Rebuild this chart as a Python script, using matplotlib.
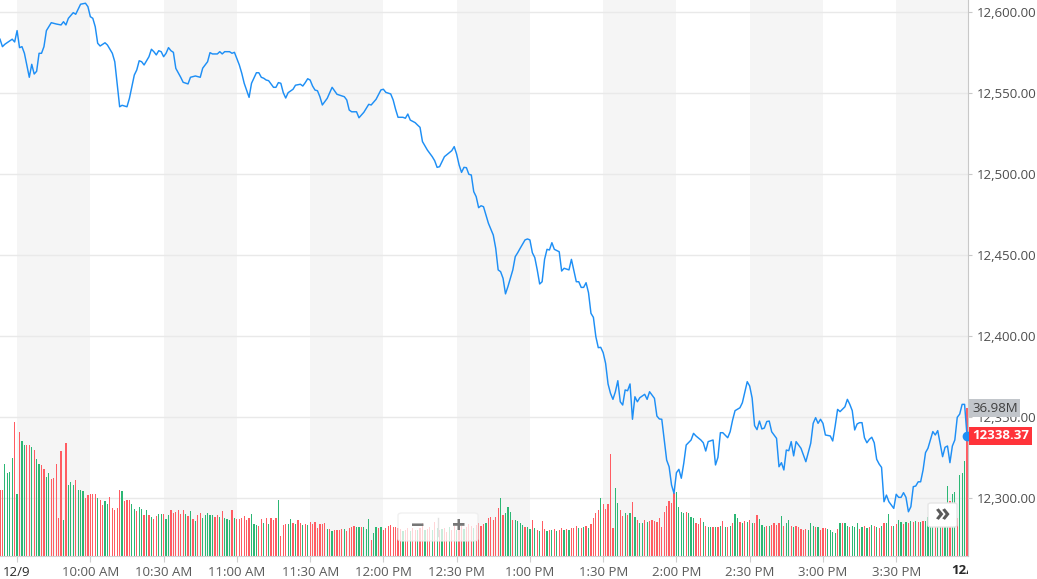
import matplotlib.pyplot as plt
from matplotlib.patches import FancyBboxPatch
from matplotlib.ticker import FuncFormatter
from matplotlib.transforms import Bbox, TransformedBbox, blended_transform_factory

plt.rcParams['font.family'] = ['Open Sans', 'DejaVu Sans']

# price line: minutes after 9:30 AM and index level
price_min = [
    -7, -6, -5, -2, -1, 0, 1, 2, 3, 5,
    6, 7, 8, 9, 10, 11, 12, 14, 16, 18,
    19, 20, 21, 23, 24, 26, 28, 29, 30, 31,
    32, 33, 34, 36, 37, 39, 40, 42, 43, 45,
    46, 48, 49, 50, 51, 52, 54, 55, 56, 57,
    58, 59, 60, 61, 62, 63, 64, 65, 66, 67,
    68, 70, 71, 73, 75, 76, 78, 79, 80, 82,
    83, 84, 85, 87, 88, 89, 91, 92, 93, 95,
    96, 98, 99, 100, 101, 102, 103, 105, 106, 107,
    108, 109, 110, 111, 113, 114, 116, 117, 118, 119,
    120, 121, 122, 123, 124, 125, 127, 129, 131, 134,
    135, 136, 137, 139, 140, 142, 144, 145, 147, 149,
    150, 151, 153, 154, 155, 156, 158, 159, 160, 161,
    163, 164, 165, 166, 168, 170, 171, 172, 173, 175,
    177, 178, 179, 180, 181, 182, 183, 184, 185, 186,
    187, 188, 189, 190, 191, 192, 193, 195, 196, 197,
    198, 199, 200, 201, 203, 204, 205, 206, 208, 209,
    210, 211, 212, 213, 214, 215, 216, 217, 218, 219,
    220, 222, 223, 224, 226, 227, 229, 230, 231, 232,
    233, 234, 235, 236, 237, 238, 239, 240, 241, 242,
    243, 244, 245, 246, 247, 248, 249, 250, 251, 252,
    253, 254, 255, 257, 258, 259, 261, 262, 263, 264,
    265, 266, 267, 268, 269, 270, 271, 272, 273, 274,
    276, 277, 278, 280, 281, 282, 283, 285, 286, 287,
    288, 289, 291, 292, 293, 294, 296, 297, 299, 300,
    301, 302, 303, 304, 305, 306, 307, 308, 309, 311,
    312, 313, 314, 315, 316, 317, 318, 319, 321, 322,
    323, 325, 326, 327, 328, 329, 330, 331, 333, 334,
    335, 336, 337, 339, 340, 341, 342, 343, 344, 345,
    346, 347, 348, 349, 350, 351, 352, 353, 354, 355,
    356, 357, 359, 360, 361, 362, 363, 364, 365, 366,
    367, 368, 369, 370, 371, 372, 373, 375, 376, 377,
    379, 380, 381, 382, 383, 384, 385, 386, 387, 388,
    389,
]
price_val = [
    12583.2, 12578.6, 12580.1, 12583.2, 12581.5, 12588.5, 12578.0, 12578.6, 12574.5, 12559.7,
    12567.7, 12561.7, 12563.4, 12574.5, 12574.5, 12578.6, 12588.5, 12593.4, 12592.6, 12592.0,
    12594.0, 12592.0, 12596.1, 12599.6, 12598.6, 12604.8, 12605.4, 12603.3, 12597.1, 12596.1,
    12590.9, 12580.7, 12579.0, 12581.0, 12579.6, 12574.5, 12569.3, 12541.5, 12542.4, 12541.5,
    12546.7, 12561.1, 12564.2, 12569.9, 12569.3, 12567.3, 12572.4, 12577.0, 12575.5, 12573.5,
    12576.1, 12575.5, 12572.4, 12574.5, 12578.0, 12576.1, 12575.1, 12565.2, 12562.5, 12559.7,
    12556.6, 12555.6, 12559.7, 12560.5, 12559.7, 12565.3, 12569.3, 12574.9, 12574.1, 12574.1,
    12575.5, 12574.1, 12575.5, 12575.5, 12574.5, 12575.1, 12567.3, 12562.2, 12556.0, 12547.3,
    12556.0, 12562.5, 12562.5, 12559.7, 12559.1, 12558.0, 12557.6, 12553.5, 12553.5, 12556.4,
    12556.0, 12550.2, 12546.9, 12550.2, 12552.3, 12554.8, 12555.4, 12554.3, 12556.4, 12558.8,
    12558.0, 12554.3, 12551.8, 12551.4, 12547.7, 12542.6, 12546.7, 12553.5, 12549.2, 12547.7,
    12545.7, 12539.5, 12538.4, 12538.4, 12534.7, 12538.1, 12543.0, 12542.6, 12546.1, 12551.9,
    12552.3, 12550.4, 12549.4, 12545.7, 12539.9, 12535.0, 12535.0, 12534.4, 12537.0, 12533.3,
    12531.7, 12530.2, 12528.8, 12520.0, 12514.8, 12510.7, 12508.2, 12504.1, 12504.5, 12510.7,
    12513.2, 12514.4, 12516.9, 12512.2, 12505.6, 12501.0, 12504.1, 12503.9, 12499.8, 12499.4,
    12489.1, 12486.0, 12479.2, 12480.4, 12479.8, 12474.7, 12469.6, 12462.3, 12454.1, 12440.8,
    12439.7, 12435.6, 12426.0, 12430.5, 12440.8, 12449.0, 12451.4, 12454.1, 12459.3, 12459.9,
    12459.3, 12451.4, 12448.4, 12440.8, 12432.1, 12433.5, 12447.3, 12453.5, 12453.1, 12457.6,
    12453.5, 12452.0, 12440.1, 12441.8, 12440.8, 12447.3, 12433.5, 12433.5, 12430.0, 12430.0,
    12432.9, 12426.7, 12414.0, 12411.5, 12399.6, 12392.8, 12393.0, 12389.7, 12383.1, 12370.4,
    12364.6, 12360.9, 12365.6, 12372.4, 12359.4, 12357.4, 12366.7, 12366.2, 12370.4, 12348.6,
    12362.5, 12359.4, 12361.9, 12364.0, 12360.9, 12365.6, 12361.5, 12350.6, 12348.8, 12348.6,
    12335.8, 12323.4, 12319.3, 12308.0, 12302.9, 12315.6, 12317.7, 12312.2, 12321.4, 12332.7,
    12335.8, 12339.9, 12338.3, 12335.8, 12334.1, 12329.0, 12334.8, 12335.8, 12320.4, 12325.1,
    12340.3, 12340.3, 12337.2, 12340.9, 12348.1, 12353.9, 12355.7, 12358.8, 12371.8, 12369.1,
    12361.7, 12344.7, 12342.2, 12347.5, 12342.6, 12343.2, 12347.2, 12347.5, 12340.9, 12336.8,
    12319.3, 12321.8, 12317.3, 12329.6, 12329.2, 12334.8, 12326.0, 12334.8, 12330.7, 12326.5,
    12322.4, 12333.8, 12346.1, 12349.6, 12346.1, 12348.6, 12346.1, 12338.9, 12338.3, 12335.2,
    12344.4, 12354.7, 12353.3, 12356.3, 12360.9, 12357.8, 12353.9, 12342.0, 12345.7, 12346.5,
    12346.5, 12337.2, 12334.1, 12336.2, 12337.5, 12334.1, 12323.9, 12321.0, 12318.9, 12297.7,
    12301.8, 12297.7, 12293.6, 12302.3, 12300.4, 12300.4, 12303.3, 12300.4, 12291.5, 12294.6,
    12307.0, 12307.4, 12310.0, 12310.0, 12317.3, 12328.0, 12330.7, 12341.0, 12338.9, 12341.6,
    12325.5, 12331.3, 12332.1, 12321.8, 12332.1, 12335.8, 12349.8, 12351.8, 12357.8, 12357.8,
    12338.37,
]

# one volume bar per minute, first bar at minute -7 (millions)
vol_m = [
    16.4, 16.6, 23.1, 20.8, 21.0, 24.6, 33.5, 15.6, 31.0, 28.8,
    27.8, 27.7, 27.8, 27.3, 26.6, 24.3, 23.1, 22.7, 21.7, 19.8,
    20.8, 19.2, 19.6, 23.1, 9.6, 26.3, 9.1, 28.3, 17.7, 18.5,
    17.7, 19.1, 16.6, 16.6, 16.3, 14.6, 15.2, 15.6, 15.6, 15.4,
    14.6, 14.1, 12.8, 13.7, 13.1, 14.8, 12.1, 11.6, 12.1, 16.4,
    16.3, 13.7, 13.9, 13.9, 12.9, 11.8, 11.3, 12.3, 11.8, 10.3,
    11.4, 10.2, 9.8, 9.3, 9.9, 10.6, 10.4, 10.4, 9.2, 10.3,
    11.4, 10.8, 11.0, 11.4, 10.4, 11.6, 10.6, 9.9, 11.3, 9.3,
    8.8, 10.2, 10.8, 9.6, 10.2, 10.8, 10.3, 10.3, 9.8, 10.3,
    9.8, 11.3, 9.6, 9.3, 9.1, 11.6, 9.6, 9.2, 9.3, 9.6,
    9.9, 8.9, 9.6, 10.6, 8.1, 7.8, 7.4, 9.3, 8.3, 9.6,
    8.1, 9.6, 8.9, 9.6, 13.9, 4.9, 7.7, 7.9, 8.1, 9.3,
    8.3, 8.1, 8.9, 8.3, 7.7, 8.1, 7.7, 8.5, 8.1, 8.5,
    7.1, 7.9, 8.1, 8.3, 6.8, 6.8, 6.2, 6.6, 6.6, 6.6,
    6.8, 6.8, 6.3, 7.1,
    7.2, 7.5, 7.2, 7.2, 7.2, 7.2, 6.7, 9.3, 4.0, 5.8,
    7.2, 6.9, 7.2, 6.5, 6.9, 7.5, 7.8, 7.2, 7.2,
    7.0, 6.8, 6.2, 6.5, 6.9, 6.3, 7.1, 6.6, 6.4, 7.0,
    8.2, 6.5, 6.8, 7.3, 6.6, 8.6, 7.0, 6.4, 6.8, 6.9,
    5.9, 7.2, 6.5, 7.4, 6.6, 7.1, 7.4, 6.7, 7.2, 7.9,
    7.4, 7.0, 7.7, 8.2,
    7.5, 8.0, 8.3, 9.4, 9.8, 9.0, 9.8, 11.9, 14.4, 10.3,
    10.7, 12.3, 11.1, 9.0, 9.0, 8.8, 8.3, 7.8, 7.3, 7.2,
    6.8, 9.0,
    7.0, 6.5, 6.2, 8.8, 6.8, 6.3, 6.5, 6.6, 6.8, 6.2,
    6.5, 6.9, 6.6, 6.8, 6.4, 6.9, 7.0, 7.5, 7.0, 6.9,
    7.3, 7.6, 7.0, 8.0, 9.6, 10.7, 11.5, 14.4, 12.9, 11.7,
    13.0, 25.4, 6.9, 16.9, 13.3, 11.5, 10.0, 10.8, 10.2, 10.8,
    13.4, 9.7, 9.0, 8.3, 8.3, 9.0, 8.6, 8.8, 9.0, 8.8,
    8.6, 9.4, 7.3, 11.0, 12.5, 13.8, 13.3, 15.8, 16.1, 12.2,
    11.1, 10.7, 11.1, 10.8, 9.7, 9.4, 8.3, 8.0,
    9.6, 8.6, 7.5, 7.3, 7.3, 7.3, 7.3, 7.3, 7.5, 8.8,
    7.2, 7.3, 7.5, 8.2, 10.4, 9.4, 8.6, 8.3, 8.8, 8.6,
    9.0, 8.2, 8.3, 10.3, 9.2, 7.8, 7.2, 7.5, 7.5, 7.8,
    8.2, 7.8, 8.3, 10.0, 7.5, 8.2, 9.0, 7.5, 7.3, 7.5,
    7.2, 6.7, 6.5, 6.8, 6.5, 8.2, 7.5, 7.3, 7.2, 6.5,
    7.0, 6.9, 6.8, 6.5, 6.1, 5.8, 6.7, 8.3, 8.2, 8.3,
    7.5, 7.2, 7.5, 7.2, 8.2, 6.7, 7.3, 7.5, 7.1, 7.3,
    7.8, 7.5, 7.2, 6.9, 7.5, 8.2, 8.3, 10.5, 7.5, 7.5,
    8.0, 9.0, 8.6, 8.0, 8.6, 8.3, 8.8, 8.6, 8.8, 8.6,
    8.6, 8.8, 8.8, 9.8, 8.6, 9.0, 8.8, 9.0, 9.4, 9.4,
    10.5, 17.4, 13.8, 15.5, 15.9, 9.5, 20.2, 20.8, 23.8, 36.98,
]
# u = minute closed up, d = minute closed down
vol_dir = (
    "d d u u u u d u d u  u d d u d u u d d u  u d d d d d u d u u  "
    "u d u u u d d d d d  u d d u u d d d d d  u d d d u u d u u d  "
    "u d u d d u u d u u  d d d d d d u d u d  u d d u u u u u d d  "
    "u d u u u d u d d d  d d d u u u d d u d  u d d d u d d d u u  "
    "d u d d u d u d d d  d d d d u d u d d d  d u d d  "
    "d d u u d u u u d u  u d u d d d d d d  "
    "d d u d d u d d u d  d u d d u d u d u d  d u d d u d d u d d  d u d d  "
    "d d u d d d d d u d  u u u d u u u u d u  u d  "
    "u d u d d u d u d u  d d u d u d d d u d  u d u d d d d u d d  "
    "d d d u u d d u d u  d u d u u d u d d d  d d d d d d d d u u  "
    "u u d u u u d d  "
    "d u d u u d u d u d  u d u d u u d u d u  d u d d u u u d u d  "
    "d d d u d u u d u d  d d d d u u u d u d  d d u u u u d u d u  "
    "u d u u u d u d u d  u d u d u d u u d u  d u u d u d u d u d  "
    "u d u u u u d u u d  u u d u u d u u u d"
).split()

last_price = 12338.37
last_vol = 36.98

tick_min = [0, 30, 60, 90, 120, 150, 180, 210, 240, 270, 300, 330, 360, 390]
tick_lbl = ["12/9", "10:00 AM", "10:30 AM", "11:00 AM", "11:30 AM", "12:00 PM",
            "12:30 PM", "1:00 PM", "1:30 PM", "2:00 PM", "2:30 PM", "3:00 PM",
            "3:30 PM", "12/10"]
price_ticks = [12300, 12350, 12400, 12450, 12500, 12550, 12600]

W, H = 1037, 579
line_col = '#1e8ff5'
up_col = '#2cb774'
down_col = '#ff5c62'

fig = plt.figure(figsize=(W / 100, H / 100), dpi=100)
ax_v = fig.add_axes([0, 23 / H, 968 / W, 556 / H])
ax_p = ax_v.twinx()

# half hour bands
for s in tick_min[:-1:2]:
    ax_v.axvspan(s, s + 30, color='#f5f5f5', lw=0, zorder=0)

# price gridlines drawn under the volume bars
grid_tr = blended_transform_factory(ax_v.transAxes, ax_p.transData)
for p in price_ticks:
    ax_v.plot([0, 1], [p, p], transform=grid_tr, color='#e9e9e9', lw=1, zorder=1)

bar_x = list(range(-7, -7 + len(vol_m)))
bar_c = [up_col if d == 'u' else down_col for d in vol_dir]
ax_v.bar(bar_x, vol_m, width=0.5, color=bar_c, lw=0, zorder=2)
ax_v.set_ylim(0, 139)
ax_v.set_xlim(-7, 389.4)
ax_v.yaxis.set_visible(False)

ax_v.set_xticks(tick_min[:-1], tick_lbl[:-1])
ax_v.tick_params(axis='x', length=4, color='#cfcfcf', pad=3, labelsize=9.5,
                 labelcolor='#5a5a5a')
ax_v.get_xticklabels()[0].set_color('#2a2a2a')
for side in ['top', 'left', 'right']:
    ax_v.spines[side].set_visible(False)
ax_v.spines['bottom'].set_color('#d4d4d4')

# next-day label, cut at the plot edge as in the app
t = ax_v.text(tick_min[-1], -15 / 556, tick_lbl[-1], transform=ax_v.get_xaxis_transform(),
              ha='center', va='center', fontsize=9.5, color='#2a2a2a', fontweight='bold')
t.set_clip_box(TransformedBbox(Bbox([[0, 0], [968 / W, 1]]), fig.transFigure))
t.set_clip_on(True)

# price
ax_p.plot(price_min, price_val, color=line_col, lw=1.05, zorder=3)
ax_p.plot([price_min[-1]], [last_price], 'o', ms=6, color=line_col, clip_on=False, zorder=4)
ax_p.set_ylim(12264.2, 12607.4)
ax_p.set_yticks(price_ticks)
ax_p.yaxis.set_major_formatter(FuncFormatter(lambda v, p: f'{v:,.2f}'))
ax_p.tick_params(axis='y', length=3, color='#c8c8c8', pad=3, labelsize=9.5,
                 labelcolor='#4d4d4d')
for side in ['top', 'left', 'bottom']:
    ax_p.spines[side].set_visible(False)
ax_p.spines['right'].set_color('#c8c8c8')

# value flags on the right axis
ax_p.annotate(f'{last_vol:.2f}M', xy=(1, last_vol), xycoords=ax_v.get_yaxis_transform(),
              xytext=(4, 0), textcoords='offset pixels', ha='left', va='center',
              fontsize=9.5, color='#3f3f3f', annotation_clip=False, zorder=6,
              bbox=dict(boxstyle='square,pad=0.2', fc='#c2c6cb', ec='none'))
ax_p.annotate(f'{last_price:.2f}', xy=(1, last_price), xycoords=ax_p.get_yaxis_transform(),
              xytext=(4, 0), textcoords='offset pixels', ha='left', va='center',
              fontsize=9.5, color='white', fontweight='bold', annotation_clip=False, zorder=6,
              bbox=dict(boxstyle='square,pad=0.2', fc='#ff333a', ec='none'))


def fx(x):
    return x / W


def fy(y):
    return 1 - y / H


# zoom controls overlay
fig.add_artist(FancyBboxPatch((fx(398), fy(541)), 80 / W, 28 / H, transform=fig.transFigure,
                              boxstyle='round,pad=0,rounding_size=0.004',
                              fc='white', ec='#ececec', alpha=0.75, zorder=5))
fig.add_artist(plt.Line2D([fx(438), fx(438)], [fy(518), fy(536)], transform=fig.transFigure,
                          color='#e2e2e2', lw=1, zorder=6))
fig.text(fx(418), fy(527), '\u2212', ha='center', va='center', fontsize=17,
         color='#777777', fontweight='bold', zorder=7)
fig.text(fx(459), fy(527), '+', ha='center', va='center', fontsize=17,
         color='#777777', fontweight='bold', zorder=7)

fig.add_artist(FancyBboxPatch((fx(928), fy(527)), 29 / W, 24 / H, transform=fig.transFigure,
                              boxstyle='round,pad=0,rounding_size=0.003',
                              fc='white', ec='#e6e6e6', zorder=5))
fig.text(fx(943), fy(515), '\u00bb', ha='center', va='center', fontsize=18,
         color='#5a5a5a', fontweight='bold', zorder=7)

plt.savefig('out.png', dpi=100)
